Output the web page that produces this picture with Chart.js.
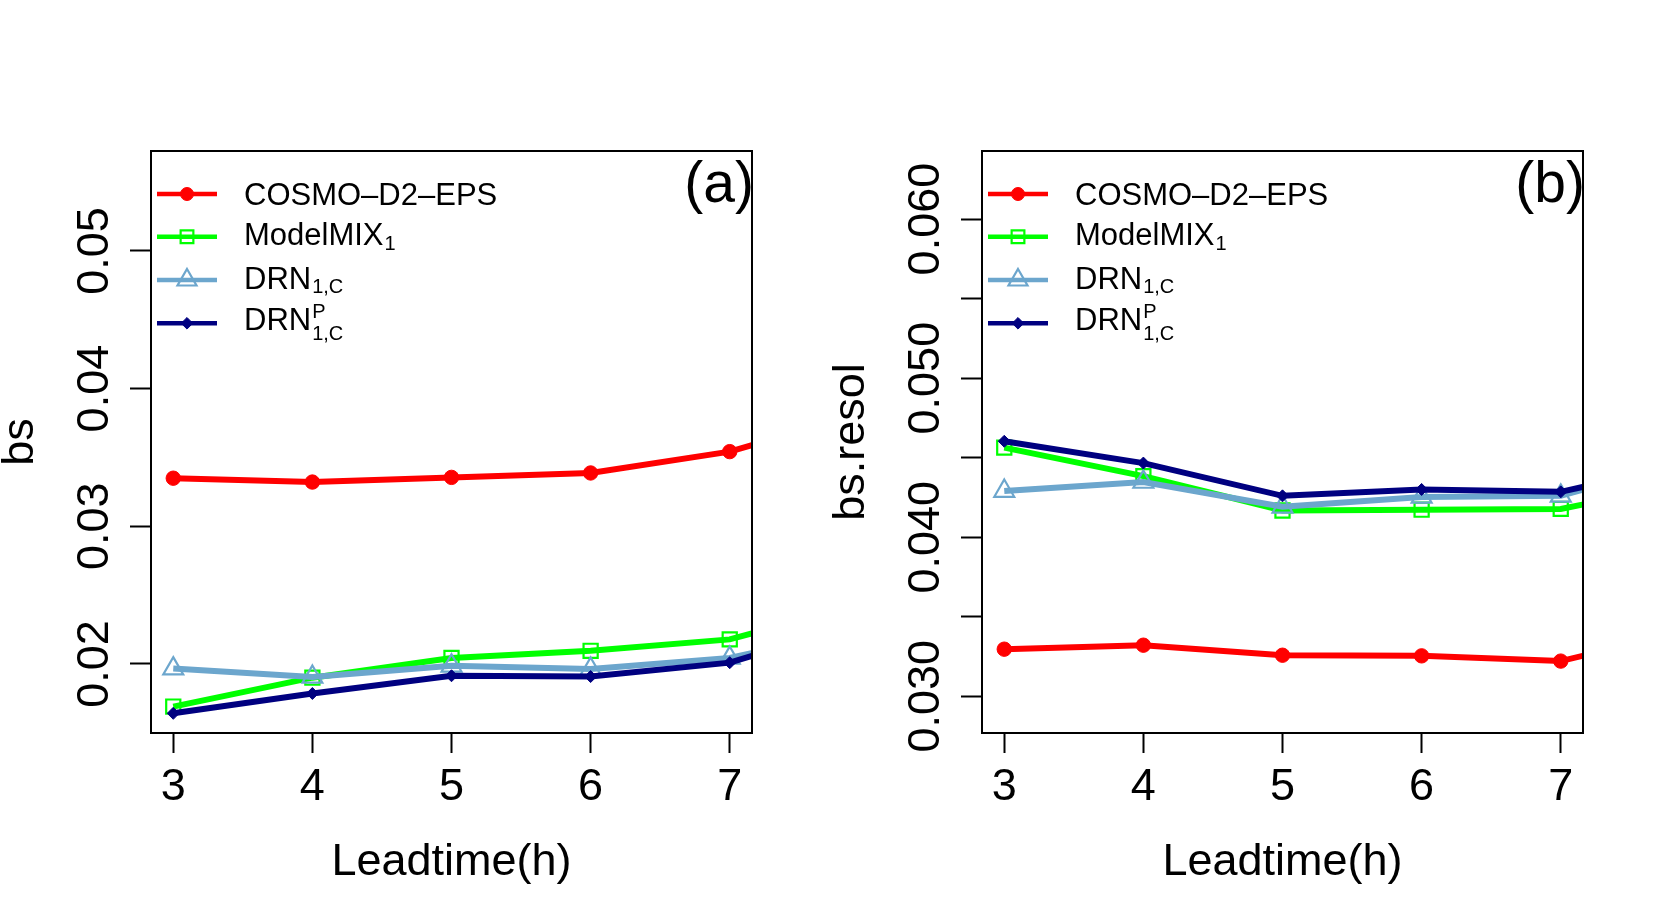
<!DOCTYPE html>
<html><head><meta charset="utf-8">
<script src="https://cdn.jsdelivr.net/npm/chart.js@4.4.0/dist/chart.umd.min.js"></script>
<style>
html,body{margin:0;padding:0;background:#fff;width:1661px;height:923px;overflow:hidden}
canvas{position:absolute;top:0}
#ca{left:0}
#cb{left:831px}
</style></head><body>
<canvas id="ca" width="831" height="923"></canvas>
<canvas id="cb" width="830" height="923"></canvas>
<script>
// ---- data ----
const leadtimes = [3, 4, 5, 6, 7, 8];
const xTicks = [3, 4, 5, 6, 7];
const xTitle = 'Leadtime(h)';

// panel (a): bs
const cosmoA = [0.03349, 0.03321, 0.03355, 0.03387, 0.03542, 0.0384];
const mmixA  = [0.0169, 0.0190, 0.02043, 0.02095, 0.02178, 0.0245];
const drnA   = [0.01966, 0.01905, 0.01986, 0.01963, 0.02043, 0.0227];
const drnpA  = [0.01641, 0.01785, 0.01914, 0.01908, 0.02009, 0.0232];
const yTicksA  = [0.02, 0.03, 0.04, 0.05];
const yLabelsA = ['0.02', '0.03', '0.04', '0.05'];

// panel (b): bs.resol
const cosmoB = [0.03296, 0.03321, 0.03258, 0.03254, 0.03221, 0.0343];
const mmixB  = [0.04563, 0.04384, 0.04168, 0.04173, 0.04178, 0.0435];
const drnB   = [0.0429, 0.04347, 0.04191, 0.04253, 0.0426, 0.0450];
const drnpB  = [0.04603, 0.04466, 0.0426, 0.0430, 0.04285, 0.0448];
const yTicksB  = [0.030, 0.035, 0.040, 0.045, 0.050, 0.055, 0.060];
const yLabelsB = ['0.030', '', '0.040', '', '0.050', '', '0.060'];

// legend text
const legendMain = ['COSMO\u2013D2\u2013EPS', 'ModelMIX', 'DRN', 'DRN'];
const legendSub  = ['', '1', '1,C', '1,C'];
const legendSup  = ['', '', '', 'P'];

// ---- styles ----
const FONT = '"Liberation Sans", Arial, Helvetica, sans-serif';
const colors = ['#FF0000', '#00FF00', '#6CA6CD', '#000080'];
const styles = [
  {pointStyle: 'circle', radius: 7.2, legendR: 6.5, fill: true, bw: 1},
  {pointStyle: 'rect', radius: 10, legendR: 9, fill: false, bw: 2.2},
  {pointStyle: 'triangle', radius: 11.5, legendR: 11, fill: false, bw: 2.2},
  {pointStyle: 'rectRot', radius: 6, legendR: 5.8, fill: true, bw: 1}
];

function drawMarker(ctx, style, r, x, y, color, fill, bw) {
  ctx.save();
  ctx.beginPath();
  if (style === 'circle') {
    ctx.arc(x, y, r, 0, Math.PI * 2);
  } else if (style === 'rect') {
    const s = Math.SQRT1_2 * r;
    ctx.rect(x - s, y - s, 2 * s, 2 * s);
  } else if (style === 'triangle') {
    ctx.moveTo(x, y - r);
    ctx.lineTo(x + 0.866 * r, y + 0.5 * r);
    ctx.lineTo(x - 0.866 * r, y + 0.5 * r);
    ctx.closePath();
  } else {
    ctx.moveTo(x - r, y); ctx.lineTo(x, y - r); ctx.lineTo(x + r, y); ctx.lineTo(x, y + r);
    ctx.closePath();
  }
  if (fill) { ctx.fillStyle = color; ctx.fill(); }
  ctx.strokeStyle = color; ctx.lineWidth = bw; ctx.stroke();
  ctx.restore();
}

const rDecor = {
  id: 'rDecor',
  afterDraw(chart, args, o) {
    const ctx = chart.ctx, ca = chart.chartArea;
    const xs = chart.scales.x, ys = chart.scales.y;
    ctx.save();
    // box
    ctx.strokeStyle = '#000'; ctx.lineWidth = 2;
    ctx.strokeRect(ca.left, ca.top, ca.right - ca.left, ca.bottom - ca.top);
    ctx.fillStyle = '#000';
    // x tick labels
    ctx.font = '45px ' + FONT;
    ctx.textAlign = 'center'; ctx.textBaseline = 'alphabetic';
    xTicks.forEach(v => ctx.fillText(String(v), xs.getPixelForValue(v), 800));
    // y tick labels (rotated, R style)
    o.yTicks.forEach((v, i) => {
      const lab = o.yLabels[i];
      if (!lab) return;
      ctx.save();
      ctx.translate(108, ys.getPixelForValue(v));
      ctx.rotate(-Math.PI / 2);
      ctx.fillText(lab, 0, 0);
      ctx.restore();
    });
    // axis titles
    ctx.fillText(xTitle, (ca.left + ca.right) / 2, 875);
    ctx.save();
    ctx.translate(33, (ca.top + ca.bottom) / 2);
    ctx.rotate(-Math.PI / 2);
    ctx.fillText(o.yTitle, 0, 0);
    ctx.restore();
    // panel label
    ctx.font = '57px ' + FONT;
    ctx.textAlign = 'right';
    ctx.fillText(o.panel, ca.right + 2, 201.5);
    // legend
    const rowY = [194, 236.7, 280, 323.3];
    const baseOff = [11, 8.5, 8.5, 6.5];
    const subShift = [0, 5, 4, 10.5];
    const supShift = [0, 0, 0, -12];
    ctx.textAlign = 'left';
    for (let i = 0; i < 4; i++) {
      const y = rowY[i];
      ctx.strokeStyle = colors[i]; ctx.lineWidth = 4.5; ctx.lineCap = 'butt';
      ctx.beginPath(); ctx.moveTo(ca.left + 6, y); ctx.lineTo(ca.left + 66, y); ctx.stroke();
      const st = styles[i];
      drawMarker(ctx, st.pointStyle, st.legendR, ca.left + 36, y, colors[i], st.fill, st.bw);
      ctx.fillStyle = '#000';
      ctx.font = '31px ' + FONT;
      const bx = ca.left + 93, by = y + baseOff[i];
      ctx.fillText(legendMain[i], bx, by);
      const w = ctx.measureText(legendMain[i]).width;
      ctx.font = '20px ' + FONT;
      if (legendSub[i]) ctx.fillText(legendSub[i], bx + w + 1, by + subShift[i]);
      if (legendSup[i]) ctx.fillText(legendSup[i], bx + w + 1, by + supShift[i]);
    }
    ctx.restore();
  }
};

function ds(label, arr, i) {
  const st = styles[i];
  return {
    label: label,
    data: leadtimes.map((x, k) => ({x: x, y: arr[k]})),
    borderColor: colors[i],
    borderWidth: 6,
    tension: 0,
    fill: false,
    clip: 0,
    order: 4 - i,
    pointStyle: st.pointStyle,
    pointRadius: st.radius,
    pointBorderWidth: st.bw,
    pointBorderColor: colors[i],
    pointBackgroundColor: st.fill ? colors[i] : 'rgba(0,0,0,0)'
  };
}

function makeChart(id, arrs, yMin, yMax, yTicks, yLabels, yTitle, panel, canvasW) {
  return new Chart(document.getElementById(id), {
    type: 'line',
    data: {
      datasets: [
        ds('COSMO-D2-EPS', arrs[0], 0),
        ds('ModelMIX1', arrs[1], 1),
        ds('DRN1,C', arrs[2], 2),
        ds('DRNP1,C', arrs[3], 3)
      ]
    },
    options: {
      responsive: false,
      animation: false,
      devicePixelRatio: 1,
      events: [],
      layout: {padding: {left: 0, top: 151, right: canvasW - 752, bottom: 0}},
      plugins: {
        legend: {display: false},
        tooltip: {enabled: false},
        rDecor: {yTicks: yTicks, yLabels: yLabels, yTitle: yTitle, panel: panel}
      },
      scales: {
        x: {
          type: 'linear', min: 2.84, max: 7.16,
          afterBuildTicks: s => { s.ticks = xTicks.map(v => ({value: v})); },
          afterFit: s => { s.height = 190; },
          ticks: {display: false},
          grid: {drawOnChartArea: false, drawTicks: true, tickLength: 20, tickWidth: 2, tickColor: '#000'},
          border: {display: false}
        },
        y: {
          type: 'linear', min: yMin, max: yMax,
          afterBuildTicks: s => { s.ticks = yTicks.map(v => ({value: v})); },
          afterFit: s => { s.width = 151; },
          ticks: {display: false},
          grid: {drawOnChartArea: false, drawTicks: true, tickLength: 21, tickWidth: 2, tickColor: '#000'},
          border: {display: false}
        }
      }
    },
    plugins: [rDecor]
  });
}

makeChart('ca', [cosmoA, mmixA, drnA, drnpA], 0.01498, 0.05726, yTicksA, yLabelsA, 'bs', '(a)', 831);
makeChart('cb', [cosmoB, mmixB, drnB, drnpB], 0.02769, 0.06428, yTicksB, yLabelsB, 'bs.resol', '(b)', 830);
</script>
</body></html>
